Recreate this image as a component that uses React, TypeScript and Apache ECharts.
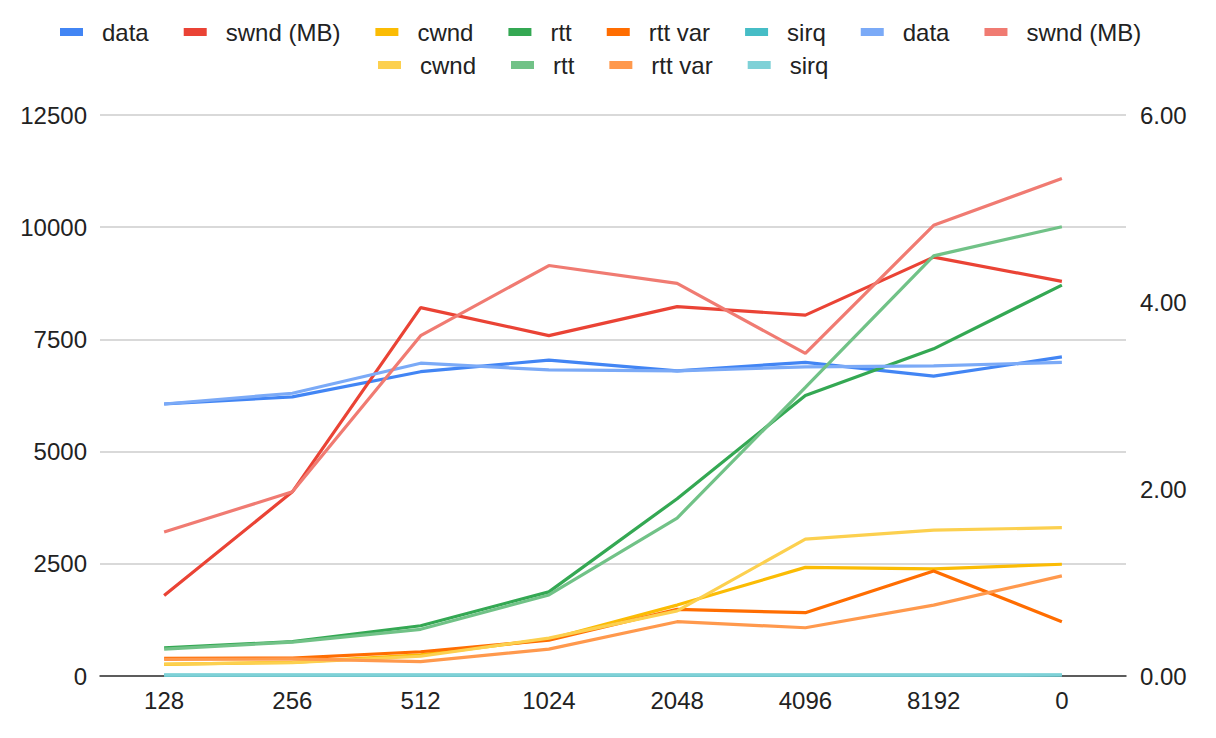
import React, { useEffect, useRef } from "react";
import * as echarts from "echarts";

const categories = ["128", "256", "512", "1024", "2048", "4096", "8192", "0"];

// first set (darker colours)
const data1 = [6060, 6220, 6780, 7040, 6800, 6990, 6680, 7110];
const swnd1 = [0.86, 1.97, 3.94, 3.64, 3.95, 3.86, 4.48, 4.22];
const cwnd1 = [260, 305, 470, 820, 1580, 2420, 2385, 2490];
const rtt1 = [630, 765, 1120, 1875, 3950, 6250, 7290, 8710];
const rttVar1 = [395, 400, 540, 800, 1485, 1410, 2340, 1210];
const sirq1 = [18, 18, 19, 20, 20, 21, 21, 22];

// second set (lighter colours)
const data2 = [6060, 6300, 6970, 6820, 6800, 6890, 6910, 6990];
const swnd2 = [1.54, 1.97, 3.64, 4.39, 4.2, 3.45, 4.82, 5.32];
const cwnd2 = [265, 300, 440, 845, 1450, 3050, 3250, 3305];
const rtt2 = [600, 755, 1040, 1805, 3520, 6430, 9360, 10010];
const rttVar2 = [370, 380, 320, 600, 1210, 1075, 1580, 2230];
const sirq2 = [18, 18, 19, 20, 20, 21, 21, 22];

const leftTicks = { min: 0, max: 12500, interval: 2500 };
const rightTicks = { min: 0, max: 6, interval: 2 };

const FONT = "'Liberation Sans', Arial, sans-serif";
const TEXT = "#222222";

type S = { name: string; values: number[]; color: string; axis: number };

const seriesDefs: S[] = [
  { name: "data", values: data1, color: "#4285F4", axis: 0 },
  { name: "swnd (MB)", values: swnd1, color: "#EA4335", axis: 1 },
  { name: "cwnd", values: cwnd1, color: "#FBBC04", axis: 0 },
  { name: "rtt", values: rtt1, color: "#34A853", axis: 0 },
  { name: "rtt var", values: rttVar1, color: "#FF6D01", axis: 0 },
  { name: "sirq", values: sirq1, color: "#46BDC6", axis: 0 },
  { name: "data ", values: data2, color: "#7BAAF7", axis: 0 },
  { name: "swnd (MB) ", values: swnd2, color: "#F07B72", axis: 1 },
  { name: "cwnd ", values: cwnd2, color: "#FCD04F", axis: 0 },
  { name: "rtt ", values: rtt2, color: "#71C287", axis: 0 },
  { name: "rtt var ", values: rttVar2, color: "#FF994D", axis: 0 },
  { name: "sirq ", values: sirq2, color: "#7ED1D7", axis: 0 },
];

export default function App() {
  const ref = useRef<HTMLDivElement>(null);

  useEffect(() => {
    if (!ref.current) return;
    const chart = echarts.init(ref.current, undefined, { renderer: "svg" });
    const legendCommon = {
      orient: "horizontal" as const,
      icon: "rect",
      padding: 0,
      itemWidth: 23,
      itemHeight: 8,
      itemGap: 35,
      formatter: (n: string) => n.trim(),
      textStyle: {
        fontFamily: FONT,
        fontSize: 24,
        color: TEXT,
        padding: [0, 0, 0, 14],
      },
    };
    chart.setOption({
      animation: false,
      backgroundColor: "#ffffff",
      textStyle: { fontFamily: FONT },
      legend: [
        {
          ...legendCommon,
          left: 60,
          top: 20,
          data: seriesDefs.slice(0, 8).map((s) => s.name),
        },
        {
          ...legendCommon,
          left: 378,
          top: 53,
          data: seriesDefs.slice(8).map((s) => s.name),
        },
      ],
      grid: { left: 100, right: 90, top: 115, bottom: 62, containLabel: false },
      xAxis: {
        type: "category",
        data: categories,
        boundaryGap: true,
        axisLine: { show: true, lineStyle: { color: "#333333", width: 1.5 } },
        axisTick: { show: false },
        axisLabel: { fontFamily: FONT, fontSize: 24, color: TEXT, margin: 12 },
        splitLine: { show: false },
      },
      yAxis: [
        {
          type: "value",
          ...leftTicks,
          axisLine: { show: false },
          axisTick: { show: false },
          axisLabel: {
            fontFamily: FONT,
            fontSize: 24,
            color: TEXT,
            margin: 13,
            formatter: (v: number) => String(v),
          },
          splitLine: { show: true, lineStyle: { color: "#cccccc", width: 1.5 } },
        },
        {
          type: "value",
          ...rightTicks,
          position: "right",
          axisLine: { show: false },
          axisTick: { show: false },
          axisLabel: {
            fontFamily: FONT,
            fontSize: 24,
            color: TEXT,
            margin: 14,
            formatter: (v: number) => v.toFixed(2),
          },
          splitLine: { show: false },
        },
      ],
      series: seriesDefs.map((s) => ({
        name: s.name,
        type: "line",
        yAxisIndex: s.axis,
        data: s.values,
        symbol: "none",
        showSymbol: false,
        smooth: false,
        color: s.color,
        lineStyle: { color: s.color, width: 3.2 },
        emphasis: { disabled: true },
      })),
    });
    return () => chart.dispose();
  }, []);

  return (
    <div
      ref={ref}
      style={{ position: "fixed", left: 0, top: 0, width: 1216, height: 738, background: "#fff" }}
    />
  );
}
